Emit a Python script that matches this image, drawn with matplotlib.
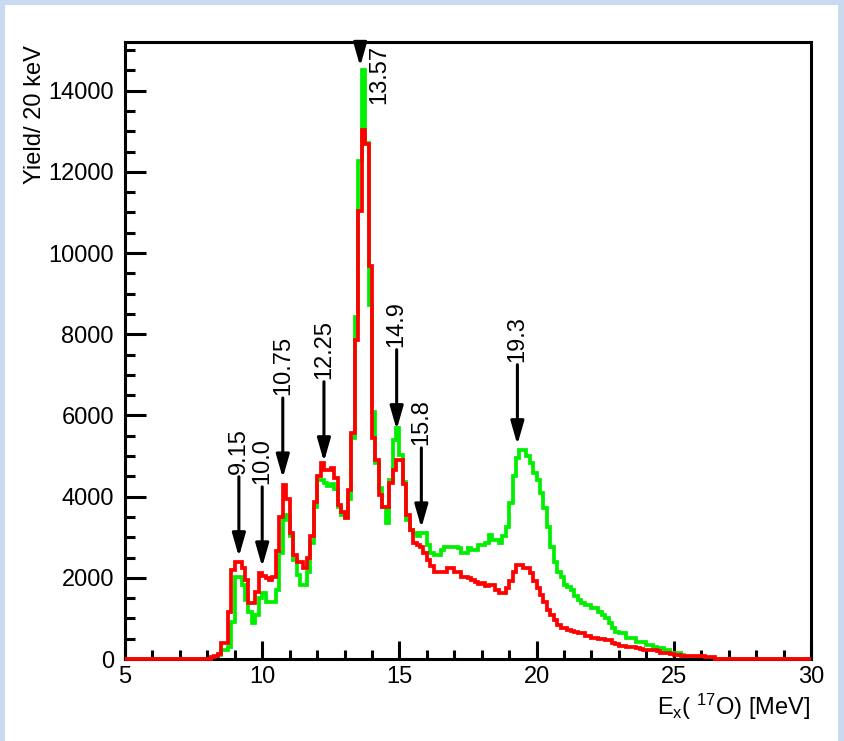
import numpy as np
import matplotlib
matplotlib.use("Agg")
import matplotlib.pyplot as plt
from matplotlib.patches import Rectangle

plt.rcParams['font.family'] = ['Liberation Sans', 'DejaVu Sans']
plt.rcParams['mathtext.default'] = 'regular'

# histogram binning (MeV)
e_min, e_max, bin_width = 5.0, 30.0, 0.125
first_bin = 8.125  # lower edge of the first listed bin

# yields per bin starting at first_bin
red_counts = [
    40, 80, 120, 390, 390, 1170, 2190, 2400, 2400, 2240,
    1950, 1380, 1380, 1660, 2120, 2050, 2000, 1950, 2030, 2650,
    3500, 4290, 3950, 3100, 2560, 2380, 2380, 2240, 2490, 3020,
    3880, 4500, 4830, 4660, 4660, 4700, 4460, 3800, 3630, 3480,
    4170, 5570, 7870, 11030, 13030, 12680, 9670, 5450, 4900, 4040,
    3750, 3750, 4340, 4660, 4900, 4900, 4300, 3550, 3180, 2850,
    2810, 2770, 2610, 2440, 2280, 2150, 2150, 2150, 2150, 2240,
    2240, 2150, 2150, 2030, 2030, 2000, 1950, 1900, 1850, 1880,
    1800, 1820, 1820, 1700, 1620, 1620, 1740, 1910, 2150, 2320,
    2320, 2240, 2240, 2110, 1910, 1740, 1580, 1410, 1210, 1085,
    960, 840, 760, 760, 720, 700, 670, 630, 630, 570,
    570, 510, 510, 500, 485, 470, 470, 400, 370, 320,
    320, 290, 290, 290, 270, 240, 230, 220, 220, 220,
    190, 155, 155, 155, 120, 100, 100, 80, 75, 75,
    75, 75, 75, 75, 40, 40, 40,
]
green_counts = [
    0, 0, 100, 220, 220, 300, 920, 2030, 2030, 1820,
    1450, 1150, 880, 1085, 1500, 1630, 1410, 1410, 1410, 1700,
    2610, 3430, 3550, 3020, 2440, 2070, 1820, 1820, 2150, 2860,
    3750, 4410, 4400, 4340, 4250, 4300, 4200, 3750, 3550, 3500,
    3950, 5450, 8430, 12260, 14500, 12720, 8730, 6090, 4830, 4220,
    3750, 3350, 4410, 5400, 5700, 5030, 4370, 3430, 3180, 3100,
    3020, 3100, 3100, 2810, 2610, 2560, 2560, 2690, 2770, 2770,
    2770, 2770, 2730, 2610, 2610, 2730, 2690, 2690, 2810, 2810,
    2850, 3060, 2930, 2930, 2850, 3020, 3260, 3840, 4500, 4950,
    5150, 5150, 4990, 4830, 4580, 4410, 4090, 3720, 3260, 2770,
    2400, 2150, 2030, 1820, 1780, 1700, 1540, 1450, 1370, 1330,
    1330, 1250, 1250, 1170, 1085, 1010, 890, 760, 670, 640,
    640, 510, 510, 510, 430, 430, 430, 345, 345, 300,
    265, 265, 230, 220, 140, 140, 140, 100,
]

# marked states: energy label, arrow tip height
peak_labels = ['9.15', '10.0', '10.75', '12.25', '13.57', '14.9', '15.8', '19.3']
peak_tips = [2520, 2270, 4460, 4860, 14600, 5650, 3230, 5280]
arrow_len = 1970

edges = np.arange(e_min, e_max + bin_width / 2, bin_width)
nbins = len(edges) - 1
start = int(round((first_bin - e_min) / bin_width))


def full_hist(counts):
    h = np.zeros(nbins)
    h[start:start + len(counts)] = counts
    return h


red = full_hist(red_counts)
green = full_hist(green_counts)

fig = plt.figure(figsize=(8.44, 7.41), dpi=100)
fig.patch.set_facecolor('#c9daf0')
fig.patches.append(Rectangle((5 / 844, 0), 833 / 844, 736 / 741,
                             transform=fig.transFigure, facecolor='white',
                             edgecolor='none', zorder=-1))

ax = fig.add_axes([125 / 844, 1 - 659 / 741, 686 / 844, 617 / 741])
ax.set_facecolor('white')

ax.stairs(green, edges, color='#00ee00', linewidth=2.7, zorder=2)
ax.stairs(red, edges, color='#ff0000', linewidth=2.7, zorder=3, clip_on=False)

ax.set_xlim(e_min, e_max)
ax.set_ylim(0, 15200)

for lab, tip in zip(peak_labels, peak_tips):
    e = float(lab)
    tail = tip + arrow_len
    ax.annotate('', xy=(e, tip), xytext=(e, min(tail, 15200)),
                arrowprops=dict(arrowstyle='-|>,head_length=0.7,head_width=0.2',
                                mutation_scale=20, color='black', lw=2.2,
                                shrinkA=0, shrinkB=0),
                zorder=4, annotation_clip=False)
    if tail < 15200:
        ax.annotate(lab, xy=(e, tail), xytext=(0, 2), textcoords='offset points',
                    rotation=90, ha='center', va='bottom', fontsize=17)
    else:
        ax.text(e + 0.7, 15120, lab, rotation=90, ha='center', va='top',
                fontsize=17)

ax.set_xticks(np.arange(5, 31, 5))
ax.set_xticks(np.arange(5, 31, 1), minor=True)
ax.set_yticks(np.arange(0, 15000, 2000))
ax.set_yticks(np.arange(0, 15200, 500), minor=True)
ax.tick_params(axis='both', which='both', direction='in', width=2.2,
               labelsize=17, top=False, right=False)
ax.tick_params(axis='x', which='major', length=13.3, pad=5)
ax.tick_params(axis='x', which='minor', length=6.7)
ax.tick_params(axis='y', which='major', length=14.8, pad=8)
ax.tick_params(axis='y', which='minor', length=7.4)

for s in ax.spines.values():
    s.set_linewidth(2.2)

fig.text(35 / 844, 1 - 45 / 741, 'Yield/ 20 keV', rotation=90,
         ha='center', va='top', fontsize=17)
fig.text(810 / 844, 1 - 707 / 741, r'E$_{x}$( $^{17}$O) [MeV]',
         ha='right', va='center', fontsize=17)

fig.savefig('out.png', dpi=100)
